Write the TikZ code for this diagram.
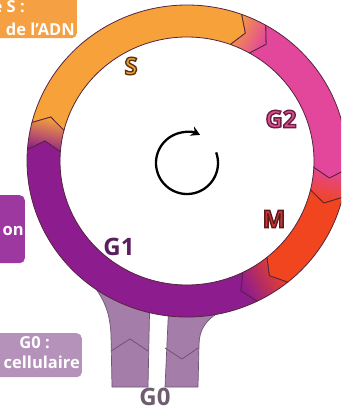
\documentclass[tikz,border=0pt]{standalone}
\usepackage{fontspec}
\setmainfont{Open Sans}
\usetikzlibrary{arrows.meta}
\definecolor{cS}{HTML}{F6A13A}
\definecolor{cG2}{HTML}{E2479B}
\definecolor{cM}{HTML}{F0451F}
\definecolor{cG1}{HTML}{8D1C8F}
\definecolor{cBar}{HTML}{A47DA9}
\definecolor{cBarEdge}{HTML}{6F5573}
\definecolor{cEdge}{HTML}{55253F}
\definecolor{boxS}{HTML}{F5A043}
\definecolor{boxG1}{HTML}{9D38A0}
\definecolor{boxG0}{HTML}{B592BA}
\definecolor{labS}{HTML}{F0A030}
\definecolor{labG2}{HTML}{D8508F}
\definecolor{labM}{HTML}{C8363A}
\definecolor{labG1}{HTML}{5A1F5F}
\definecolor{labG0}{HTML}{6E5C6F}
% outlined text: #1 stroke colour as PDF RGB triple, #2 text
\newcommand\olt[2]{%
  \special{pdf:literal direct 2 Tr 1.4 w #1 RG}#2\special{pdf:literal direct 0 Tr}}
% ring segment: #1 start angle, #2 end angle (clockwise), #3 style, #4 name
\newcommand\ringseg[4]{%
  \coordinate (#4o1) at ({187+160*cos(#1+4)},{-161+156*sin(#1+4)});
  \coordinate (#4m2) at ({187+143.5*cos(#2)},{-161+140*sin(#2)});
  \coordinate (#4i2) at ({187+127*cos(#2+4)},{-161+124*sin(#2+4)});
  \coordinate (#4m1) at ({187+143.5*cos(#1)},{-161+140*sin(#1)});
  \path[#3] (#4o1) arc[start angle={#1+4}, end angle={#2+4}, x radius=160, y radius=156]
    -- (#4m2) -- (#4i2)
    arc[start angle={#2+4}, end angle={#1+4}, x radius=127, y radius=124]
    -- (#4m1) -- cycle;
}
\tikzset{
  segbox/.style={draw=cEdge, line width=0.8pt, line join=round},
  infobox/.style={rounded corners=5pt, inner sep=0pt, anchor=north east},
  boxtxt/.style={inner sep=0pt, anchor=base east, text=white, font=\fontsize{16.5}{20}\selectfont\bfseries},
  phase/.style={inner sep=0pt, font=\fontsize{24}{24}\selectfont\bfseries},
  bar/.style={fill=cBar, draw=cBarEdge, line width=0.7pt, line join=round},
  barmark/.style={draw=cBarEdge, line width=0.8pt}
}
\begin{document}
\begin{tikzpicture}[x=1pt,y=1pt]
\useasboundingbox (0,0) rectangle (341,-409);
\clip (0,0) rectangle (341,-409);
\fill[white] (0,0) rectangle (341,-409);

% information boxes (cut by the left edge)
\node[infobox, fill=boxS, minimum width=170pt, minimum height=45pt] (bS) at (77,7) {};
\node[infobox, fill=boxG1, minimum width=100pt, minimum height=68pt] (bG1) at (25,-195) {};
\node[infobox, fill=boxG0, minimum width=180pt, minimum height=44pt] (bG0) at (82,-333) {};
\node[boxtxt] (tS1) at (25,-12.5) {e S :};
\node[boxtxt] (tS2) at (75,-35.5) {de l'ADN};
\node[boxtxt] (tG1) at (24,-235) {on};
\node[boxtxt] (tG01) at (50,-348) {G0~:};
\node[boxtxt] (tG02) at (80,-368) {cellulaire};

% G0 branches
\path[bar] (112,-387) -- (111,-335) .. controls (110,-312) and (104,-300) .. (94,-286)
  -- (94,-270) -- (150,-290) -- (148,-387) -- cycle;
\path[bar] (165,-387) -- (169,-300) -- (230,-295) -- (218,-313)
  .. controls (206,-320) and (199,-330) .. (199,-345) -- (198,-387) -- cycle;
\coordinate (la) at (111,-351); \coordinate (lb) at (130,-339); \coordinate (lc) at (148,-351);
\draw[barmark] (la) -- (lb) -- (lc);
\coordinate (ra) at (165,-348); \coordinate (rb) at (182,-359); \coordinate (rc) at (198,-348);
\draw[barmark] (ra) -- (rb) -- (rc);

% ring
\ringseg{161.7}{66}{segbox, fill=cS}{sS}
\ringseg{66}{56.5}{segbox, top color=cS, bottom color=cG2, shading angle=61}{t1}
\ringseg{56.5}{-7}{segbox, fill=cG2}{sG2}
\ringseg{-7}{-17.5}{segbox, top color=cG2, bottom color=cM, shading angle=-12}{t2}
\ringseg{-17.5}{-55}{segbox, fill=cM}{sM}
\ringseg{-55}{-68}{segbox, top color=cM, bottom color=cG1, shading angle=-61.5}{t3}
\ringseg{-68}{-188.3}{segbox, fill=cG1}{sG1}
\ringseg{-188.3}{-198.3}{segbox, top color=cG1, bottom color=cS, shading angle=-193}{t4}

% phase labels
\node[phase, text=labS] (lS) at (131,-66) {\olt{0.36 0.20 0.08}{S}};
\node[phase, text=labG2] (lG2) at (281,-119) {\olt{0.43 0.11 0.26}{G2}};
\node[phase, text=labM] (lM) at (274,-219) {\olt{0.37 0.10 0.10}{M}};
\node[phase, text=labG1] (lG1) at (119,-247) {G1};
\node[phase, text=labG0] (lG0) at (155,-397) {G0};

% cycle arrow
\coordinate (C) at (187,-163);
\draw[line width=2.3pt, -{Stealth[length=9pt,width=10pt]}] (C) ++(20:31) arc[start angle=20, end angle=-295, radius=31];
\end{tikzpicture}
\end{document}
